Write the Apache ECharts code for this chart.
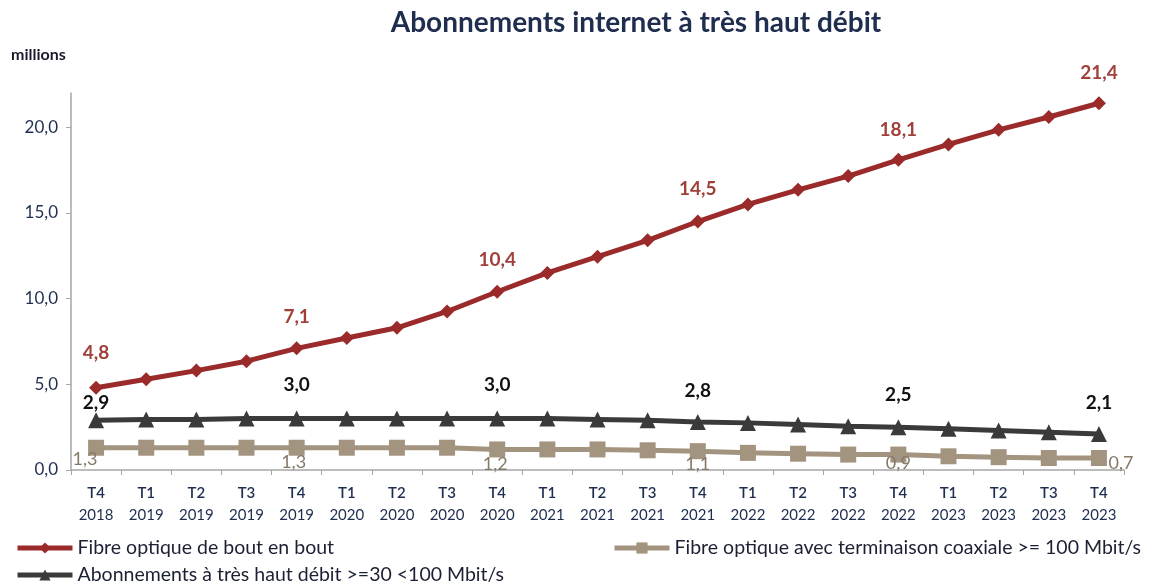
<!DOCTYPE html>
<html>
<head>
<meta charset="utf-8">
<script src="https://cdn.jsdelivr.net/npm/echarts@6/dist/echarts.min.js"></script>
<style>
  html, body { margin: 0; padding: 0; background: #fff; }
  #chart { width: 1156px; height: 587px; }
</style>
</head>
<body>
<div id="chart"></div>
<script>
// trimestres
const quarters = ["T4", "T1", "T2", "T3", "T4", "T1", "T2", "T3", "T4", "T1", "T2", "T3", "T4", "T1", "T2", "T3", "T4", "T1", "T2", "T3", "T4"];
const years = ["2018", "2019", "2019", "2019", "2019", "2020", "2020", "2020", "2020", "2021", "2021", "2021", "2021", "2022", "2022", "2022", "2022", "2023", "2023", "2023", "2023"];

// millions d'abonnements
const fibreBoutEnBout = [4.8, 5.3, 5.8, 6.35, 7.1, 7.7, 8.3, 9.25, 10.4, 11.5, 12.45, 13.4, 14.5, 15.5, 16.35, 17.15, 18.1, 19.0, 19.85, 20.6, 21.4];
const thd30a100 = [2.9, 2.95, 2.95, 3.0, 3.0, 3.0, 3.0, 3.0, 3.0, 3.0, 2.95, 2.9, 2.8, 2.75, 2.65, 2.55, 2.5, 2.4, 2.3, 2.2, 2.1];
const fibreCoaxiale = [1.3, 1.3, 1.3, 1.3, 1.3, 1.3, 1.3, 1.3, 1.2, 1.2, 1.2, 1.15, 1.1, 1.0, 0.95, 0.9, 0.9, 0.8, 0.75, 0.7, 0.7];

const nameFibre = "Fibre optique de bout en bout";
const nameThd = "Abonnements à très haut débit >=30 <100 Mbit/s";
const nameCoax = "Fibre optique avec terminaison coaxiale >= 100 Mbit/s";

// points étiquetés (un sur quatre)
const labelled = [0, 4, 8, 12, 16, 20];

const fmt = v => v.toFixed(1).replace(".", ",");
const FONT = "Lato, 'Open Sans', sans-serif";
const NAVY = "#1f2d4f";

// décalage des étiquettes par série
const offFibre = [[0, -35], [0, -31], [0, -32], [0, -33], [0, -30], [0, -30]];
const offThd = [[0, -17], [0, -34], [0, -34], [0, -31], [0, -32], [0, -31]];
const offCoax = [[-11, 11], [-3, 14], [-2, 15], [0, 13], [0, 9], [22, 5]];

function withLabels(values, offsets, style) {
  return values.map((v, i) => {
    const k = labelled.indexOf(i);
    if (k < 0) return v;
    return {
      value: v,
      label: Object.assign({
        show: true,
        position: "inside",
        offset: offsets[k],
        formatter: p => fmt(p.value)
      }, style)
    };
  });
}

let myChart = echarts.init(document.getElementById("chart"));

let legendText = { fontSize: 19.5, color: "#1c2033", fontFamily: FONT, lineHeight: 22 };

let option = {
  animation: false,
  textStyle: { fontFamily: FONT },
  graphic: [
    {
      type: "text", x: 636, y: 23,
      style: {
        text: "Abonnements internet à très haut débit",
        fontFamily: FONT, fontSize: 28, fontWeight: "bold",
        fill: NAVY, align: "center", verticalAlign: "middle"
      }
    },
    {
      type: "text", x: 11, y: 55,
      style: {
        text: "millions",
        fontFamily: FONT, fontSize: 16, fontWeight: "bold",
        fill: "#1a1a2e", verticalAlign: "middle"
      }
    }
  ],
  grid: { left: 71, right: 32, top: 93, bottom: 117 },
  legend: [
    {
      orient: "vertical", left: 15, top: 537, padding: 0,
      itemWidth: 55, itemHeight: 14, itemGap: 5,
      lineStyle: { width: 5 },
      textStyle: legendText,
      data: [nameFibre, nameThd]
    },
    {
      orient: "vertical", left: 612, top: 537, padding: 0,
      itemWidth: 55, itemHeight: 14,
      lineStyle: { width: 5 },
      textStyle: legendText,
      data: [nameCoax]
    }
  ],
  xAxis: {
    type: "category",
    data: quarters.map((q, i) => q + "\n" + years[i]),
    boundaryGap: true,
    axisLine: { lineStyle: { color: "#a6a6a6", width: 1.5 } },
    axisTick: { show: true, length: 5, lineStyle: { color: "#a6a6a6" } },
    axisLabel: {
      color: NAVY, fontSize: 15,
      lineHeight: 22, margin: 12, interval: 0,
      formatter: v => {
        const parts = v.split("\n");
        return "{q|" + parts[0] + "}\n{y|" + parts[1] + "}";
      },
      rich: {
        q: { fontSize: 15, fontWeight: 600, color: NAVY, lineHeight: 22, fontFamily: FONT },
        y: { fontSize: 15, color: NAVY, lineHeight: 22, fontFamily: FONT }
      }
    }
  },
  yAxis: {
    type: "value",
    min: 0, max: 22, interval: 5,
    splitLine: { show: false },
    axisLine: { show: true, lineStyle: { color: "#a6a6a6", width: 1.5 } },
    axisTick: { show: true, length: 5, lineStyle: { color: "#a6a6a6" }, customValues: [0, 5, 10, 15, 20] },
    axisLabel: {
      color: NAVY, fontSize: 17, margin: 13,
      customValues: [0, 5, 10, 15, 20],
      formatter: v => fmt(v)
    }
  },
  series: [
    {
      name: nameFibre,
      type: "line",
      symbol: "diamond", symbolSize: 14,
      lineStyle: { color: "#9b2a2a", width: 5 },
      itemStyle: { color: "#9b2a2a" },
      data: withLabels(fibreBoutEnBout, offFibre, { color: "#a0403a", fontSize: 19, fontWeight: "bold" }),
      z: 3
    },
    {
      name: nameThd,
      type: "line",
      symbol: "triangle", symbolSize: 16,
      lineStyle: { color: "#3a3a3a", width: 5 },
      itemStyle: { color: "#3a3a3a" },
      data: withLabels(thd30a100, offThd, { color: "#111111", fontSize: 19, fontWeight: "bold" }),
      z: 2
    },
    {
      name: nameCoax,
      type: "line",
      symbol: "rect", symbolSize: 16,
      lineStyle: { color: "#a39480", width: 5 },
      itemStyle: { color: "#a39480" },
      data: withLabels(fibreCoaxiale, offCoax, { color: "#857a68", fontSize: 18 }),
      z: 1
    }
  ]
};

myChart.setOption(option);
</script>
</body>
</html>
